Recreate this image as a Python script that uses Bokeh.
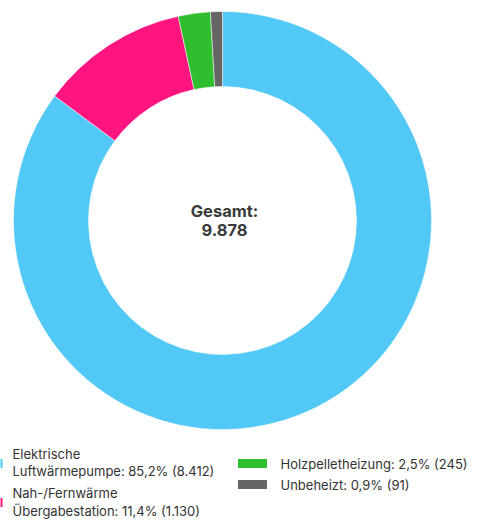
import math
from bokeh.plotting import figure
from bokeh.models import Range1d, ColumnDataSource
from bokeh.core.properties import value
from bokeh.embed import file_html
from bokeh.resources import INLINE

categories = ["Elektrische\nLuftwärmepumpe", "Nah-/Fernwärme\nÜbergabestation", "Holzpelletheizung", "Unbeheizt"]
counts = [8412, 1130, 245, 91]
percent_labels = ["85,2%", "11,4%", "2,5%", "0,9%"]
count_labels = ["8.412", "1.130", "245", "91"]
colors = ["#52C8F7", "#FF1480", "#2EBE2E", "#666666"]
total_label = "9.878"

W, H = 482, 523
p = figure(width=W, height=H, output_backend="svg", toolbar_location=None,
           x_range=Range1d(0, W), y_range=Range1d(0, H), min_border=0)
p.axis.visible = False
p.grid.visible = False
p.outline_line_color = None
p.background_fill_color = "white"

total = sum(counts)
starts, ends = [], []
a = math.pi / 2
for c in counts:
    starts.append(a)
    a = a - 2 * math.pi * c / total
    ends.append(a)

cx, cy = 222, H - 220
src = ColumnDataSource(dict(start=starts, end=ends, color=colors))
p.annular_wedge(x=cx, y=cy, inner_radius=134, outer_radius=209,
                start_angle="start", end_angle="end", direction="clock",
                color="color", line_color="white", line_width=0.5, source=src)

p.text(x=[cx + 2], y=[H - 210], text=["Gesamt:"], text_align="center", text_baseline="middle",
       text_font=value("Inter"), text_font_size="16.5px", text_font_style="bold", text_color="#3a3a3a")
p.text(x=[cx + 2], y=[H - 229], text=[total_label], text_align="center", text_baseline="middle",
       text_font=value("Inter"), text_font_size="16.5px", text_font_style="bold", text_color="#3a3a3a")

labels = [f"{categories[i]}: {percent_labels[i]} ({count_labels[i]})" for i in range(4)]

# left column (swatches mostly off page); each label drawn as two lines
p.rect(x=[-12, -12], y=[H - 463, H - 502], width=28, height=9, color=colors[:2], line_color=None)
left_lines = []
for lab in labels[:2]:
    left_lines.extend(lab.split("\n"))
p.text(x=[12] * 4, y=[H - 453, H - 470.5, H - 492, H - 510], text=left_lines,
       text_align="left", text_baseline="middle",
       text_font=value("Inter"), text_font_size="13px", text_color="#333333")
# right column
p.rect(x=[252, 252], y=[H - 463, H - 484], width=29, height=9, color=colors[2:], line_color=None)
p.text(x=[280, 280], y=[H - 463, H - 484], text=labels[2:], text_align="left", text_baseline="middle",
       text_font=value("Inter"), text_font_size="13px", text_color="#333333")

open("out.html", "w").write(file_html(p, INLINE))
